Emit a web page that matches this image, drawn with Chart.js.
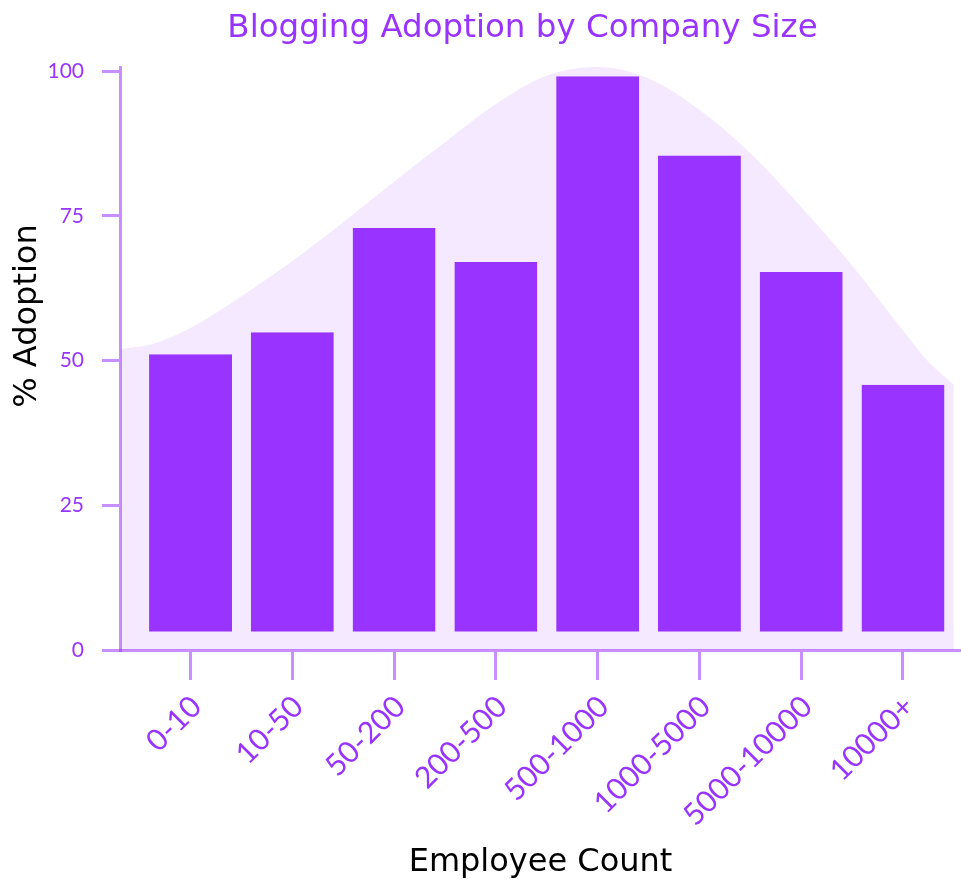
<!DOCTYPE html>
<html>
<head>
<meta charset="utf-8">
<title>Blogging Adoption by Company Size</title>
<script src="https://cdn.jsdelivr.net/npm/chart.js@4.4.1/dist/chart.umd.min.js"></script>
<style>
  html, body { margin: 0; padding: 0; background: #fff; }
  #wrap { width: 961px; height: 879px; }
</style>
</head>
<body>
<div id="wrap"><canvas id="adoptionChart"></canvas></div>
<script>
const sizes = ['0-10', '10-50', '50-200', '200-500', '500-1000', '1000-5000', '5000-10000', '10000+'];
const adoption = [51.1, 54.9, 72.9, 67.0, 99.1, 85.4, 65.3, 45.8];

// smooth backdrop curve, x = position along the size axis (0 = first group)
const trendPos = [-0.69, -0.38, 0, 0.5, 1, 1.5, 2, 2.5, 3, 3.5, 4, 4.5, 5, 5.5, 6, 6.5, 7, 7.25, 7.5];
const trendVal = [52.0, 52.8, 55.6, 61.1, 67.2, 73.9, 80.9, 87.7, 94.3, 99.2, 100.7, 98.7, 93.3, 85.8, 76.5, 66.4, 55.2, 49.8, 45.8];

const yTicks = [0, 25, 50, 75, 100];

const chartTitle = 'Blogging Adoption by Company Size';
const yLabel = '% Adoption';

const purple = '#9933ff';
const axisPurple = 'rgba(153, 51, 255, 0.55)';
const titleFont = '"DejaVu Sans", sans-serif';
const tickFont = 'Lato, sans-serif';

// main title and rotated y title; the main title is centred over
// tick labels + plot, the y title sits a little above the plot's middle
const titles = {
  id: 'titles',
  afterDraw(chart) {
    const ctx = chart.ctx;
    ctx.save();
    ctx.textAlign = 'center';
    ctx.textBaseline = 'middle';

    ctx.font = '32.5px ' + titleFont;
    ctx.fillStyle = purple;
    ctx.fillText(chartTitle, 522.5, 29);

    ctx.translate(28, 316);
    ctx.rotate(-Math.PI / 2);
    ctx.font = '32px ' + titleFont;
    ctx.fillStyle = '#000';
    ctx.fillText(yLabel, 0, 0);
    ctx.restore();
  }
};

const ctx = document.getElementById('adoptionChart').getContext('2d');
new Chart(ctx, {
  type: 'bar',
  data: {
    datasets: [
      {
        label: 'Adoption',
        data: adoption.map((v, i) => ({ x: i, y: v })),
        backgroundColor: purple,
        borderColor: 'rgba(0, 0, 0, 0)',
        borderWidth: { top: 0, right: 0, bottom: 17, left: 0 },
        borderSkipped: false,
        categoryPercentage: 1,
        barPercentage: 0.815,
        order: 1
      },
      {
        type: 'line',
        label: 'Trend',
        data: trendPos.map((x, i) => ({ x, y: trendVal[i] })),
        backgroundColor: 'rgba(153, 51, 255, 0.11)',
        borderWidth: 0,
        pointRadius: 0,
        fill: 'origin',
        cubicInterpolationMode: 'monotone',
        order: 2
      }
    ]
  },
  options: {
    responsive: true,
    maintainAspectRatio: false,
    animation: false,
    layout: { padding: { top: 67 } },
    plugins: {
      legend: { display: false },
      tooltip: { enabled: false },
      title: { display: false }
    },
    scales: {
      x: {
        type: 'linear',
        min: -0.693,
        max: 7.57,
        offset: false,
        afterFit: (scale) => { scale.height = 229; },
        afterBuildTicks: (scale) => { scale.ticks = sizes.map((s, i) => ({ value: i })); },
        ticks: {
          autoSkip: false,
          minRotation: 45,
          maxRotation: 45,
          padding: 9,
          labelOffset: 6,
          color: purple,
          font: { family: tickFont, size: 30 },
          callback: (v) => sizes[v]
        },
        grid: { offset: false, drawOnChartArea: false, tickLength: 30, color: axisPurple, lineWidth: 3 },
        border: { color: axisPurple, width: 3 },
        title: {
          display: true,
          text: 'Employee Count',
          color: '#000',
          font: { family: titleFont, size: 32, lineHeight: 1 },
          padding: { top: 0, bottom: 0 }
        }
      },
      y: {
        min: 0,
        max: Math.max(...trendVal),
        afterFit: (scale) => { scale.width = 120; },
        afterBuildTicks: (scale) => { scale.ticks = yTicks.map(v => ({ value: v })); },
        ticks: {
          padding: 18,
          color: purple,
          font: { family: tickFont, size: 21 }
        },
        grid: { drawOnChartArea: false, tickLength: 18, color: axisPurple, lineWidth: 3 },
        border: { color: axisPurple, width: 3 }
      }
    }
  },
  plugins: [titles]
});
</script>
</body>
</html>
